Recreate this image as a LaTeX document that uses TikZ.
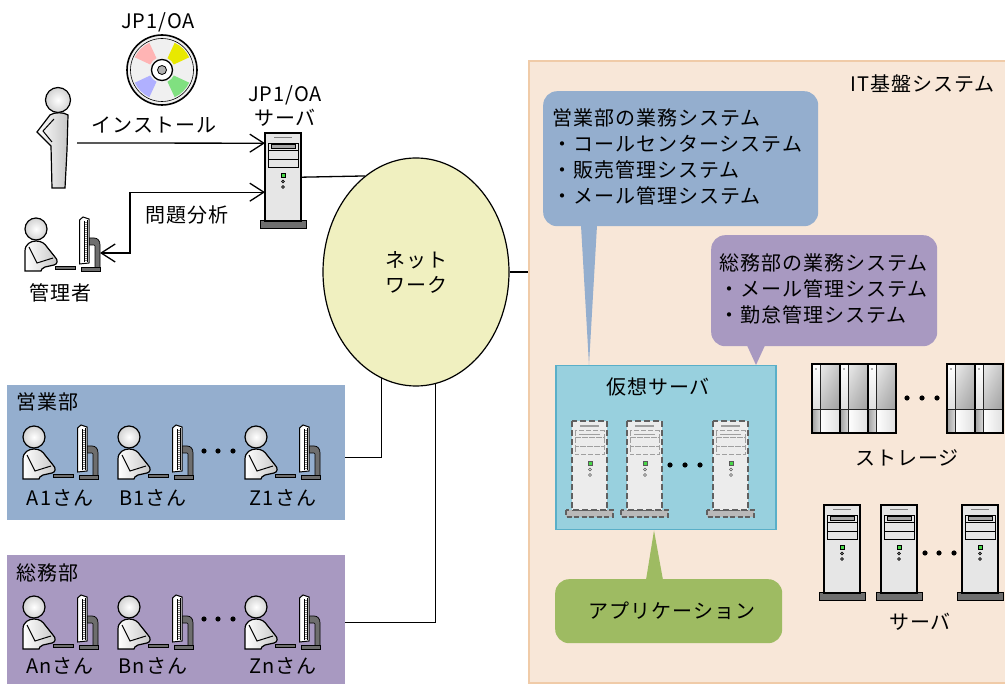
\documentclass[tikz,border=0pt]{standalone}
\usepackage{fontspec}
\setmainfont[LetterSpace=5]{Noto Sans CJK JP}
\usetikzlibrary{arrows.meta,shapes.geometric,calc,shadings}

\definecolor{itfill}{HTML}{F8E7D8}
\definecolor{itline}{HTML}{F0CBA8}
\definecolor{salesblue}{HTML}{94AECE}
\definecolor{genpurple}{HTML}{A899C1}
\definecolor{vfill}{HTML}{98D0DE}
\definecolor{vline}{HTML}{5AAFC8}
\definecolor{appgreen}{HTML}{9EBB62}
\definecolor{netfill}{HTML}{F0F0C0}
\definecolor{casegray}{HTML}{E6E6E6}
\definecolor{basegray}{HTML}{6E6E6E}
\definecolor{ledgreen}{HTML}{48D848}
\definecolor{cdpink}{HTML}{FFB4B4}
\definecolor{cdyellow}{HTML}{E8E800}
\definecolor{cdblue}{HTML}{B0B0FF}
\definecolor{cdgreen}{HTML}{80E080}

\tikzset{
  lbl/.style={inner sep=0pt, font=\fontsize{20}{26}\selectfont},
  link/.style={line width=1.3pt, draw=black},
  barb/.style={arrows={-Straight Barb[length=14pt,width=18pt]}},
  dbarb/.style={arrows={Straight Barb[length=14pt,width=18pt]-Straight Barb[length=14pt,width=18pt]}},
  area/.style={inner sep=0pt, anchor=north west},
  callout/.style={inner sep=0pt, anchor=north west, rounded corners=14pt},
  % seated user with a desktop monitor; origin = top-left of the icon
  pcuser/.pic={
    \filldraw[fill=basegray, draw=black, line width=0.7pt]
      (65,21) -- (70,21) .. controls (74,21) and (76,24) .. (76,28) -- (76,51) -- (71,51)
      -- (71,29) .. controls (71,28.5) and (70.5,28) .. (70,28) -- (65,28) -- cycle;
    \filldraw[fill=basegray, draw=black, line width=0.7pt] (57,50) rectangle (76,54);
    \filldraw[fill=white, draw=black, line width=1pt]
      (55.5,3) -- (59,0) -- (65,2) -- (65,46) -- (55.5,47) -- cycle;
    \draw[gray, line width=2.4pt, dash pattern=on 0.8pt off 1.2pt] (61.5,5) -- (61.5,44);
    \draw[black, line width=0.5pt] (60,4) -- (60,45) (63,3) -- (63,45);
    \filldraw[fill=basegray, draw=black, line width=0.6pt] (31,49) rectangle (51,52.5);
    \filldraw[left color=white, right color=gray!45, draw=black, line width=1.2pt]
      (1,54) -- (1,34) .. controls (1,27) and (7,24) .. (12,24)
      .. controls (18,24) and (21,27) .. (23,30) -- (31,40)
      .. controls (34,43) and (34,47) .. (30,48) -- (21,50)
      .. controls (18,51) and (17,53) .. (17,54) -- cycle;
    \draw[line width=1pt] (5,30) -- (13,46) -- (29,41);
    \filldraw[inner color=white, outer color=gray!35, draw=black, line width=1.2pt]
      (12,12) circle[radius=11pt];
  },
  % standing person; origin = head centre
  standing/.pic={
    \filldraw[left color=white, right color=gray!45, draw=black, line width=1.2pt]
      (-8,15) .. controls (-4,12) and (6,12) .. (10,15) -- (9,50) -- (7,88) -- (-6,88)
      -- (-7,46) -- (-21,32) -- cycle;
    \draw[line width=1pt] (-4,19) -- (-15,31) -- (-6,42);
    \filldraw[inner color=white, outer color=gray!35, draw=black, line width=1.2pt]
      (0,0) circle[radius=12.5pt];
  },
  % tower server; origin = top-left of the case
  towersrv/.pic={
    \filldraw[fill=basegray, draw=black, line width=1pt] (-5,88) rectangle (41,96);
    \filldraw[fill=casegray, draw=black, line width=1.3pt] (0,0) rectangle (36,88);
    \draw[gray, line width=1.5pt] (9,4.5) -- (27,4.5);
    \draw[line width=0.8pt] (3,10) rectangle (33,17) (3,17) rectangle (33,26) (3,26) rectangle (33,34);
    \filldraw[fill=gray!70, draw=black, line width=0.6pt] (6,11.5) rectangle (30,15.5);
    \filldraw[fill=ledgreen, draw=black, line width=0.6pt] (16,40) rectangle (20,44);
    \filldraw[fill=gray, draw=black, line width=0.5pt]
      (18,48.5) circle[radius=1.5pt] (18,54) circle[radius=1.5pt];
  },
  % virtual machine drawn as a dashed server
  vmsrv/.pic={
    \filldraw[fill=gray!55, draw=gray!75!black, line width=1.5pt, dash pattern=on 5pt off 2.5pt]
      (-6,89) rectangle (41,96);
    \filldraw[fill=gray!15, draw=gray!75!black, line width=1.8pt, dash pattern=on 6pt off 3pt]
      (0,0) rectangle (35,89);
    \draw[gray!75, line width=1.2pt] (8,5) -- (27,5);
    \draw[gray!75, line width=1pt, dash pattern=on 5pt off 2pt]
      (3,10) rectangle (32,17) (3,17) rectangle (32,26) (3,26) rectangle (32,34);
    \draw[gray!75, line width=1.5pt] (7,13.5) -- (28,13.5);
    \filldraw[fill=ledgreen, draw=gray!70!black, line width=0.6pt] (16,40) rectangle (20,44);
    \draw[gray!70!black, line width=0.6pt]
      (18,48.5) circle[radius=1.5pt] (18,54) circle[radius=1.5pt];
  },
  % one storage cabinet; origin = top-left
  cabinet/.pic={
    \shade[top color=white, bottom color=gray!25] (0,0) rectangle (8,46);
    \shade[upper left=gray!15, upper right=gray!45, lower left=gray!50, lower right=gray!75] (8,0) rectangle (28,46);
    \shade[left color=gray!75, right color=gray!30] (0,46) rectangle (8,69);
    \shade[left color=white, right color=gray!25] (8,46) rectangle (28,69);
    \draw[line width=1.2pt] (0,0) rectangle (28,69);
    \draw[line width=1pt, gray!30!black] (8,0) -- (8,69) (0,46) -- (28,46);
    \fill[gray!60] (3,4) rectangle (5,6);
  }
}

\begin{document}
\begin{tikzpicture}[x=1pt,y=-1pt]
\useasboundingbox (0,0) rectangle (1005,684);
\clip (0,0) rectangle (1005,684);
\fill[white] (0,0) rectangle (1005,684);

% ---------- IT infrastructure area ----------
\node[area, draw=itline, fill=itfill, line width=1.6pt, minimum width=490pt, minimum height=622pt] (itbox) at (528,60) {};
\node[lbl, anchor=east] (itlbl) at (995,84) {IT基盤システム};

% ---------- departments ----------
\node[area, fill=salesblue, minimum width=338pt, minimum height=135pt] (grpA) at (7,385) {};
\node[area, fill=genpurple, minimum width=338pt, minimum height=135pt] (grpB) at (7,555) {};
\node[lbl, anchor=west] (grpAlbl) at (16,402) {営業部};
\node[lbl, anchor=west] (grpBlbl) at (16,573) {総務部};

\pic at (22,425) {pcuser};
\pic at (117,425) {pcuser};
\pic at (244,425) {pcuser};
\pic at (22,595) {pcuser};
\pic at (117,595) {pcuser};
\pic at (244,595) {pcuser};
\foreach \dx in {204,218,233} {
  \fill (\dx,451) circle[radius=2.6pt];
  \fill (\dx,619) circle[radius=2.6pt];
}
\node[lbl] (uA1) at (60,498) {A1さん};
\node[lbl] (uB1) at (153,498) {B1さん};
\node[lbl] (uZ1) at (283,498) {Z1さん};
\node[lbl] (uAn) at (60,666) {Anさん};
\node[lbl] (uBn) at (153,666) {Bnさん};
\node[lbl] (uZn) at (283,666) {Znさん};

% ---------- network ----------
\node[ellipse, draw, fill=netfill, line width=1.2pt, minimum width=186pt, minimum height=228pt,
      inner sep=0pt, align=center, font=\fontsize{20}{25}\selectfont] (net) at (416,272) {ネット\\ワーク};

% ---------- JP1/OA server, media and administrator ----------
\pic at (265,133) {towersrv};
\node[area, minimum width=36pt, minimum height=88pt] (srv) at (265,133) {};
\node[lbl] (srvlbl1) at (285,95) {JP1/OA};
\node[lbl] (srvlbl2) at (285,118) {サーバ};

\begin{scope}[shift={(162,70)}, y=1pt]
  \filldraw[fill=gray!12, draw=black, line width=1.6pt] (0,0) circle[radius=35pt];
  \draw[line width=0.6pt] (0,0) circle[radius=31.5pt];
  \foreach \a/\c in {25/cdyellow, 115/cdpink, 205/cdblue, 295/cdgreen} {
    \fill[\c] (\a:13) arc[start angle=\a, end angle=\a+40, radius=13]
      -- (\a+40:30) arc[start angle=\a+40, end angle=\a, radius=30] -- cycle;
  }
  \filldraw[fill=white, draw=black, line width=1.3pt] (0,0) circle[radius=10.5pt];
  \filldraw[fill=gray!60, draw=black, line width=0.8pt] (0,0) circle[radius=4.5pt];
\end{scope}
\node[lbl] (cdlbl) at (158,22) {JP1/OA};

\pic at (58,100) {standing};
\coordinate (instsrc) at (77,143);
\node[lbl] (instlbl) at (154,125) {インストール};

\pic at (24,217) {pcuser};
\coordinate (admtip) at (100,253);
\node[lbl] (admlbl) at (60,293) {管理者};
\node[lbl] (analbl) at (187,215) {問題分析};

% ---------- business system callouts ----------
\node[area, minimum width=220pt, minimum height=164pt] (vsrvframe) at (555,365) {};
\node[callout, fill=salesblue, minimum width=275pt, minimum height=135pt] (callA) at (543,91) {};
\fill[salesblue] ([xshift=38pt,yshift=1pt]callA.south west) -- ([xshift=54pt,yshift=1pt]callA.south west)
  -- ([xshift=34pt]vsrvframe.north west) -- cycle;
\node[lbl, anchor=west, align=left] (callAtxt) at (552,157)
  {営業部の業務システム\\・コールセンターシステム\\・販売管理システム\\・メール管理システム};

\node[callout, fill=genpurple, minimum width=226pt, minimum height=111pt] (callB) at (711,235) {};
\fill[genpurple] ([xshift=36pt,yshift=1pt]callB.south west) -- ([xshift=54pt,yshift=1pt]callB.south west)
  -- ([xshift=201pt]vsrvframe.north west) -- cycle;
\node[lbl, anchor=west, align=left] (callBtxt) at (719,289)
  {総務部の業務システム\\・メール管理システム\\・勤怠管理システム};

% ---------- virtual servers ----------
\node[area, draw=vline, fill=vfill, line width=1.5pt, minimum width=220pt, minimum height=164pt] (vsrv) at (555,365) {};
\node[lbl] (vsrvlbl) at (658,387) {仮想サーバ};
\pic at (572,421) {vmsrv};
\pic at (627,421) {vmsrv};
\pic at (713,421) {vmsrv};
\foreach \dx in {670,685,700} \fill (\dx,465) circle[radius=2.6pt];

% ---------- application callout ----------
\node[callout, fill=appgreen, minimum width=227pt, minimum height=64pt] (app) at (555,579) {};
\fill[appgreen] ([xshift=91pt,yshift=-1pt]app.north west) -- ([xshift=108pt,yshift=-1pt]app.north west)
  -- ([xshift=99pt]vsrv.south west) -- cycle;
\node[lbl] (applbl) at ([xshift=3pt]app.center) {アプリケーション};

% ---------- storage ----------
\pic at (812,364) {cabinet};
\pic at (840,364) {cabinet};
\pic at (868,364) {cabinet};
\draw[line width=1.8pt] (812,364) rectangle (896,433);
\pic at (947,364) {cabinet};
\pic at (975,364) {cabinet};
\draw[line width=1.8pt] (947,364) rectangle (1003,433);
\foreach \dx in {907,922,937} \fill (\dx,398) circle[radius=2.6pt];
\node[lbl] (stolbl) at (907,458) {ストレージ};

% ---------- physical servers ----------
\pic at (824,505) {towersrv};
\pic at (881,505) {towersrv};
\pic at (962,505) {towersrv};
\foreach \dx in {925,939,954} \fill (\dx,553) circle[radius=2.6pt];
\node[lbl] (psrvlbl) at (920,622) {サーバ};

% ---------- connectors ----------
\draw[link] (srv.east) -- (net.118.4);
\draw[link] (net.east) -- (net.east -| itbox.west);
\draw[link] (net.252.8) |- ([yshift=-4.5pt]grpA.east);
\draw[link] (net.280.7) |- (grpB.east);
\draw[link, barb] (instsrc) -- ([yshift=34pt]srv.west);
\draw[link, dbarb] (admtip) -- ++(30,0) |- ([yshift=-15pt]srv.west);
\end{tikzpicture}
\end{document}
